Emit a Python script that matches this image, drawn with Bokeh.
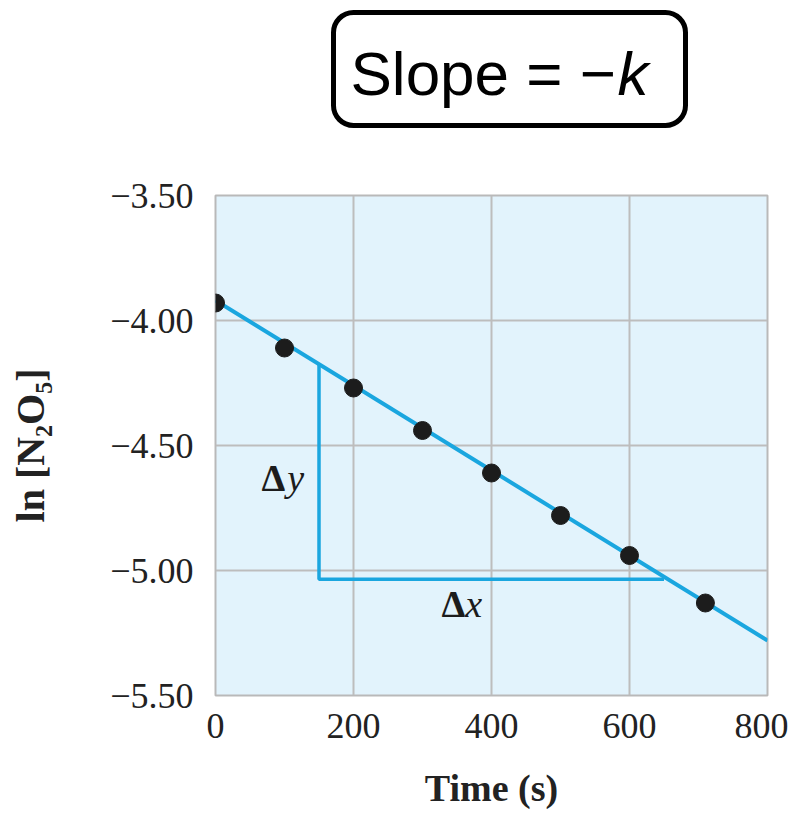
from bokeh.plotting import figure
from bokeh.models import Range1d, FixedTicker, Label, BoxAnnotation
from bokeh.layouts import column
from bokeh.embed import file_html
from bokeh.resources import INLINE

# ---- data ----
time_s = [0, 100, 200, 300, 400, 500, 600, 710]
ln_n2o5 = [-3.93, -4.11, -4.27, -4.44, -4.61, -4.78, -4.94, -5.13]

fit_x = [0, 800]
fit_y = [-3.92, -5.28]

tri_x = [150, 150, 650]
tri_y = [-4.175, -5.035, -5.035]

x_ticks = [0, 200, 400, 600, 800]
x_tick_labels = ["0", "200", "400", "600", "800"]
y_ticks = [-3.5, -4.0, -4.5, -5.0, -5.5]
y_tick_labels = ["\u22123.50", "\u22124.00", "\u22124.50", "\u22125.00", "\u22125.50"]

BLUE = "#1aa6df"
INK = "#1c1c1c"
SERIF = "Liberation Serif"
SANS = "Liberation Sans"

# ---- heading panel with "Slope = -k" box (frame aligned with the chart frame) ----
top = figure(
    width=788, height=148,
    frame_width=552, frame_height=148,
    x_range=Range1d(215, 767), y_range=Range1d(148, 0),
    output_backend="svg", toolbar_location=None,
    min_border_left=215, min_border_right=21, min_border_top=0, min_border_bottom=0,
)
top.outline_line_color = None
top.background_fill_color = "white"
top.border_fill_color = "white"
top.axis.visible = False
top.grid.visible = False
top.add_layout(BoxAnnotation(left=333, right=685, top=12, bottom=125,
                             fill_color="white", fill_alpha=1.0,
                             line_color="black", line_alpha=1.0, line_width=5,
                             border_radius=20))
top.add_layout(Label(x=350, y=73, text="Slope = \u2212", text_font=SANS,
                     text_font_size="62px", text_color="black", text_baseline="alphabetic"))
top.add_layout(Label(x=617, y=73, text="k", text_font=SANS, text_font_style="italic",
                     text_font_size="62px", text_color="black", text_baseline="alphabetic"))

# ---- main chart ----
p = figure(
    width=788, height=660,
    frame_width=552, frame_height=500,
    x_range=Range1d(0, 800), y_range=Range1d(-5.5, -3.5),
    output_backend="svg", toolbar_location=None,
    min_border_left=215, min_border_top=47, min_border_right=21, min_border_bottom=113,
)
p.background_fill_color = "#e2f3fc"
p.border_fill_color = "white"
p.outline_line_color = "#b9b9b9"
p.outline_line_width = 2

p.xaxis.ticker = FixedTicker(ticks=x_ticks)
p.yaxis.ticker = FixedTicker(ticks=y_ticks)
p.xaxis.major_label_overrides = {t: l for t, l in zip(x_ticks, x_tick_labels)}
p.yaxis.major_label_overrides = {t: l for t, l in zip(y_ticks, y_tick_labels)}

for ax in (p.xaxis, p.yaxis):
    ax.axis_line_color = None
    ax.major_tick_line_color = None
    ax.minor_tick_line_color = None
    ax.major_tick_in = 0
    ax.major_tick_out = 0
    ax.major_label_text_font = SERIF
    ax.major_label_text_font_size = "36px"
    ax.major_label_text_color = "#222222"
    ax.axis_label_text_font = SERIF
    ax.axis_label_text_font_style = "bold"
    ax.axis_label_text_color = "#222222"

p.xaxis.axis_label_text_font_size = "38px"
p.yaxis.axis_label_text_font_size = "40px"
p.xaxis.major_label_standoff = 18
p.yaxis.major_label_standoff = 22
p.xaxis.axis_label = "Time (s)"
p.yaxis.axis_label = "ln [N\u2082O\u2085]"
p.xaxis.axis_label_standoff = 26
p.yaxis.axis_label_standoff = 54

p.xgrid.grid_line_color = "#bdbdbd"
p.ygrid.grid_line_color = "#bdbdbd"
p.xgrid.grid_line_width = 2
p.ygrid.grid_line_width = 2

# fit line and slope triangle
p.line(fit_x, fit_y, line_color=BLUE, line_width=4)
p.line(tri_x, tri_y, line_color=BLUE, line_width=3.5)

# data points
p.scatter(time_s, ln_n2o5, size=18, fill_color=INK, line_color=INK)

# delta labels
for dx, tx, ty, letter in [(66.7, 104, -4.63, "y"), (327.5, 362, -5.135, "x")]:
    p.add_layout(Label(x=dx, y=ty, text="\u0394", text_font=SERIF, text_font_style="bold",
                       text_font_size="38px", text_color=INK, text_baseline="alphabetic"))
    p.add_layout(Label(x=tx, y=ty, text=letter, text_font=SERIF, text_font_style="italic",
                       text_font_size="38px", text_color=INK, text_baseline="alphabetic"))

layout = column(top, p, spacing=0)
open("out.html", "w").write(file_html(layout, INLINE))
